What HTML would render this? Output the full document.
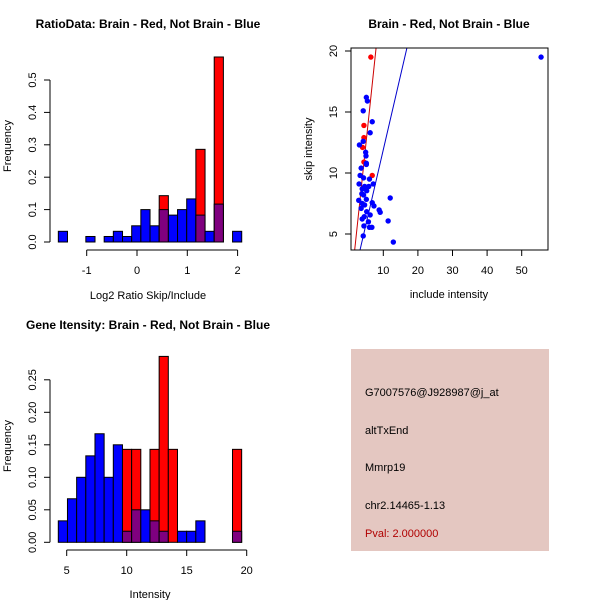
<!DOCTYPE html>
<html><head><meta charset="utf-8"><style>
html,body{margin:0;padding:0;background:#fff;}
svg{display:block;font-family:"Liberation Sans",sans-serif;}
</style></head><body>
<svg id="c" width="600" height="600" viewBox="0 0 600 600">
<rect width="600" height="600" fill="#fff"/>
<text x="148" y="28" font-size="12" font-weight="bold" text-anchor="middle">RatioData: Brain - Red, Not Brain - Blue</text>
<text x="449" y="28" font-size="12" font-weight="bold" text-anchor="middle">Brain - Red, Not Brain - Blue</text>
<text x="148" y="329" font-size="12" font-weight="bold" text-anchor="middle">Gene Itensity: Brain - Red, Not Brain - Blue</text>
<g id="h1"></g>
<g id="h2"></g>
<g id="sc"></g>
<g>
<rect x="351" y="349" width="198" height="202" fill="#E4C7C1"/>
<text x="365" y="396" font-size="11">G7007576@J928987@j_at</text>
<text x="365" y="434" font-size="11">altTxEnd</text>
<text x="365" y="471" font-size="11">Mmrp19</text>
<text x="365" y="509" font-size="11">chr2.14465-1.13</text>
<text x="365" y="537" font-size="11" fill="#B00000">Pval: 2.000000</text>
</g>
</svg>
<script>
// Ratio histogram data
const ratioStart = -1.564;
const ratioWidth = 0.1823;
const ratioBlue = [0.033,0,0,0.017,0,0.017,0.033,0.017,0.05,0.1,0.05,0.1,0.083,0.1,0.133,0.083,0.033,0.117,0,0.033];
const ratioRed  = [0,0,0,0,0,0,0,0,0,0,0,0.143,0,0,0,0.286,0,0.571,0,0];
const ratioXTicks = [-1,0,1,2];
const ratioYTicks = [0,0.1,0.2,0.3,0.4,0.5];
// Intensity histogram data
const intStart = 4.3;
const intWidth = 0.764;
const intBlue = [0.033,0.067,0.1,0.133,0.167,0.1,0.15,0.017,0.05,0.05,0.033,0.017,0,0.017,0.017,0.033,0,0,0,0.017];
const intRed  = [0,0,0,0,0,0,0,0.143,0.143,0,0.143,0.286,0.143,0,0,0,0,0,0,0.143];
const intXTicks = [5,10,15,20];
const intYTicks = [0,0.05,0.10,0.15,0.20,0.25];
const intYLabels = ["0.00","0.05","0.10","0.15","0.20","0.25"];
// Scatter data
const redX = [6.4,4.4,4.4,4.0,4.4,6.8];
const redY = [19.5,13.9,12.9,12.1,10.9,9.8];
const blueX = [5.1,5.4,4.2,6.8,6.2,4.2,3.1,4.9,5.0,5.1,5.1,3.6,3.3,4.3,6.0,3.0,7.1,4.6,5.8,3.9,5.2,3.8,4.3,12.0,2.9,5.1,3.9,6.8,4.6,7.3,3.6,8.8,9.1,5.2,6.2,4.5,3.9,5.7,11.4,4.4,6.0,6.7,4.2,12.9,55.6];
const blueY = [16.2,15.9,15.1,14.2,13.3,12.6,12.3,11.7,11.4,10.8,10.7,10.4,9.8,9.6,9.5,9.1,9.1,8.9,8.9,8.7,8.55,8.3,8.2,7.95,7.76,7.84,7.5,7.57,7.38,7.3,7.1,6.97,6.78,6.83,6.56,6.42,6.23,6.0,6.07,5.66,5.55,5.55,4.84,4.34,19.5];
const sxTicks = [10,20,30,40,50];
const syTicks = [5,10,15,20];
const redLine = [2.68,-0.95];
const blueLine = [1.222,-0.31];

const NS="http://www.w3.org/2000/svg";
function mk(p,t,a){const e=document.createElementNS(NS,t);for(const k in a)e.setAttribute(k,a[k]);p.appendChild(e);return e;}

function hist(g,o){
  const X=v=>o.x0px+(v-o.x0)*o.xs, Y=v=>o.y0px-v*o.ys;
  for(let i=0;i<o.blue.length;i++){
    const a=X(o.start+i*o.w), b=X(o.start+(i+1)*o.w);
    const r=o.red[i], bl=o.blue[i];
    if(r>0){const e=mk(g,'rect',{x:a,y:Y(r),width:b-a,height:Y(0)-Y(r),fill:'#FF0000',stroke:'#000','stroke-width':1});
      
      }
    if(bl>0){const e=mk(g,'rect',{x:a,y:Y(bl),width:b-a,height:Y(0)-Y(bl),fill:r>0?'#7F007F':'#0000FF',stroke:'#000','stroke-width':1});
      
      }
  }
  const xa=mk(g,'line',{x1:X(o.xt[0]),x2:X(o.xt[o.xt.length-1]),y1:o.xaxY,y2:o.xaxY,stroke:'#000'});
  
  
  o.xt.forEach(t=>{mk(g,'line',{x1:X(t),x2:X(t),y1:o.xaxY,y2:o.xaxY+6,stroke:'#000'});
    const tx=mk(g,'text',{x:X(t),y:o.xaxY+24,'font-size':11,'text-anchor':'middle'});tx.textContent=t;
    
    });
  const ya=mk(g,'line',{x1:50,x2:50,y1:Y(o.yt[0]),y2:Y(o.yt[o.yt.length-1]),stroke:'#000'});
  
  
  o.yt.forEach((t,i)=>{const y=Y(t);mk(g,'line',{x1:44,x2:50,y1:y,y2:y,stroke:'#000'});
    const tx=mk(g,'text',{x:36,y:y,'font-size':11,'text-anchor':'middle',transform:`rotate(-90 36 ${y})`});tx.textContent=o.yl[i];
    
    });
  const xl=mk(g,'text',{x:o.xlX,y:o.xlY,'font-size':11,'text-anchor':'middle'});xl.textContent=o.xlab;
  
  
  const yl=mk(g,'text',{x:11,y:o.ylY,'font-size':11,'text-anchor':'middle',transform:`rotate(-90 11 ${o.ylY})`});yl.textContent='Frequency';
  
  
}
hist(document.getElementById('h1'),{start:ratioStart,w:ratioWidth,blue:ratioBlue,red:ratioRed,x0:0,x0px:137,xs:50.3,y0px:242,ys:324,
  xt:ratioXTicks,yt:ratioYTicks,yl:ratioYTicks.map(String).map(s=>s==='0'?'0.0':s),xaxY:250,xlab:'Log2 Ratio Skip/Include',xlX:148,xlY:299,ylY:146});
hist(document.getElementById('h2'),{start:intStart,w:intWidth,blue:intBlue,red:intRed,x0:5,x0px:66.7,xs:12,y0px:542.3,ys:650,
  xt:intXTicks,yt:intYTicks,yl:intYLabels,xaxY:550,xlab:'Intensity',xlX:150,xlY:598,ylY:446});

// scatter
(function(){
  const g=document.getElementById('sc');
  const L=351,R=548,T=48,B=250;
  const X=v=>348.7+v*3.46, Y=v=>234-(v-5)*12.2;
  const cp=mk(g,'clipPath',{id:'scclip'});mk(cp,'rect',{x:L,y:T,width:R-L,height:B-T});
  const inv=y=>5+(234-y)/12.2;
  [[redLine,'#CC0000','red-fit-line'],[blueLine,'#0000CC','blue-fit-line']].forEach(([ln,c,n])=>{
    const y1=inv(B+5),y2=inv(T-5);
    const e=mk(g,'line',{x1:X((y1-ln[1])/ln[0]),y1:Y(y1),x2:X((y2-ln[1])/ln[0]),y2:Y(y2),stroke:c,'stroke-width':1,'clip-path':'url(#scclip)'});
    
    
  });
  redX.forEach((x,i)=>{const e=mk(g,'circle',{cx:X(x),cy:Y(redY[i]),r:2.7,fill:'#FF0000'});
    
    });
  blueX.forEach((x,i)=>{const e=mk(g,'circle',{cx:X(x),cy:Y(blueY[i]),r:2.7,fill:'#0000FF'});
    
    });
  const box=mk(g,'rect',{x:L,y:T,width:R-L,height:B-T,fill:'none',stroke:'#000'});
  
  
  sxTicks.forEach(t=>{mk(g,'line',{x1:X(t),x2:X(t),y1:B,y2:B+6,stroke:'#000'});
    const tx=mk(g,'text',{x:X(t),y:B+24,'font-size':11,'text-anchor':'middle'});tx.textContent=t;
    
    });
  syTicks.forEach(t=>{const y=Y(t);mk(g,'line',{x1:L-6,x2:L,y1:y,y2:y,stroke:'#000'});
    const tx=mk(g,'text',{x:337,y:y,'font-size':11,'text-anchor':'middle',transform:`rotate(-90 337 ${y})`});tx.textContent=t;
    
    });
  const xl=mk(g,'text',{x:449,y:298,'font-size':11,'text-anchor':'middle'});xl.textContent='include intensity';
  
  
  const yl=mk(g,'text',{x:312,y:149,'font-size':11,'text-anchor':'middle',transform:'rotate(-90 312 149)'});yl.textContent='skip intensity';
  
  
})();
</script>
</body></html>
